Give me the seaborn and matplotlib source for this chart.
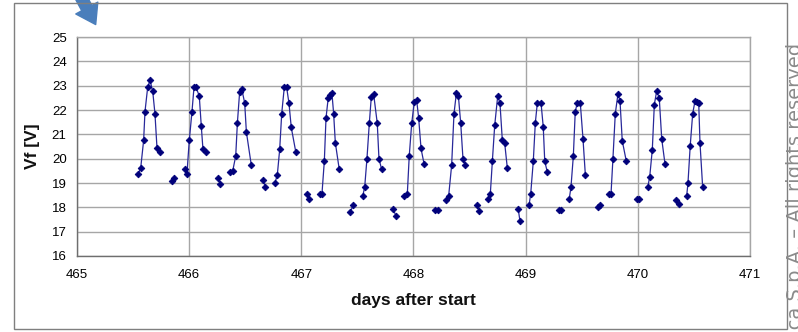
import numpy as np
import pandas as pd
import seaborn as sns
import matplotlib
matplotlib.use("Agg")
import matplotlib.pyplot as plt
from matplotlib.patches import Rectangle

nan = np.nan

# days after start (NaN marks a break in the line)
days = [
    465.547, 465.568, 465.594, 465.606, 465.630, 465.651, 465.675, 465.695, 465.713, 465.737, nan,
    465.844, 465.868, nan,
    465.963, 465.980, 466.001, 466.025, 466.043, 466.061, 466.090, 466.108, 466.123, 466.147, nan,
    466.260, 466.278, nan,
    466.367, 466.388, 466.415, 466.430, 466.450, 466.468, 466.495, 466.510, 466.554, nan,
    466.661, 466.679, nan,
    466.765, 466.786, 466.807, 466.825, 466.848, 466.869, 466.890, 466.910, 466.950, nan,
    467.048, 467.071, nan,
    467.164, 467.184, 467.205, 467.220, 467.240, 467.259, 467.273, 467.288, 467.303, 467.338, nan,
    467.437, 467.461, nan,
    467.547, 467.565, 467.585, 467.606, 467.624, 467.645, 467.677, 467.692, 467.716, nan,
    467.820, 467.844, nan,
    467.918, 467.945, 467.962, 467.984, 468.007, 468.028, 468.046, 468.067, 468.094, nan,
    468.192, 468.216, nan,
    468.292, 468.313, 468.340, 468.361, 468.382, 468.400, 468.421, 468.441, 468.462, nan,
    468.566, 468.584, nan,
    468.661, 468.685, 468.703, 468.724, 468.751, 468.771, 468.792, 468.813, 468.836, nan,
    468.934, 468.949, nan,
    469.030, 469.045, 469.068, 469.086, 469.104, 469.137, 469.157, 469.170, 469.193, nan,
    469.295, 469.315, nan,
    469.389, 469.404, 469.425, 469.442, 469.460, 469.487, 469.511, 469.532, nan,
    469.645, 469.665, nan,
    469.740, 469.761, 469.778, 469.799, 469.823, 469.841, 469.861, 469.897, nan,
    469.990, 470.010, nan,
    470.088, 470.106, 470.129, 470.147, 470.168, 470.191, 470.213, 470.242, nan,
    470.337, 470.364, nan,
    470.435, 470.447, 470.467, 470.489, 470.510, 470.530, 470.543, 470.554, 470.578,
]

# forward voltage Vf [V]
vf = [
    19.37, 19.62, 20.75, 21.93, 22.93, 23.22, 22.77, 21.85, 20.45, 20.27, nan,
    19.10, 19.19, nan,
    19.56, 19.37, 20.75, 21.93, 22.93, 22.93, 22.58, 21.34, 20.38, 20.27, nan,
    19.22, 18.95, nan,
    19.45, 19.49, 20.11, 21.48, 22.74, 22.88, 22.29, 21.10, 19.73, nan,
    19.11, 18.84, nan,
    19.00, 19.34, 20.38, 21.85, 22.93, 22.93, 22.27, 21.29, 20.29, nan,
    18.56, 18.36, nan,
    18.56, 18.56, 19.90, 21.67, 22.51, 22.60, 22.68, 21.85, 20.66, 19.56, nan,
    17.80, 18.08, nan,
    18.45, 18.84, 20.00, 21.45, 22.55, 22.64, 21.45, 20.00, 19.56, nan,
    17.93, 17.63, nan,
    18.47, 18.56, 20.11, 21.45, 22.32, 22.41, 21.67, 20.42, 19.79, nan,
    17.90, 17.90, nan,
    18.29, 18.45, 19.73, 21.85, 22.68, 22.59, 21.45, 20.00, 19.73, nan,
    18.08, 17.86, nan,
    18.36, 18.56, 19.90, 21.37, 22.59, 22.27, 20.75, 20.64, 19.63, nan,
    17.92, 17.44, nan,
    18.08, 18.56, 19.90, 21.47, 22.29, 22.29, 21.29, 19.90, 19.45, nan,
    17.90, 17.90, nan,
    18.36, 18.84, 20.11, 21.93, 22.29, 22.29, 20.82, 19.34, nan,
    18.00, 18.10, nan,
    18.56, 18.56, 20.00, 21.85, 22.66, 22.38, 20.74, 19.90, nan,
    18.36, 18.36, nan,
    18.82, 19.26, 20.37, 22.22, 22.78, 22.49, 20.81, 19.79, nan,
    18.29, 18.15, nan,
    18.45, 19.00, 20.53, 21.85, 22.38, 22.33, 22.27, 20.66, 18.82,
]

x_ticks = [465, 466, 467, 468, 469, 470, 471]
y_ticks = [16, 17, 18, 19, 20, 21, 22, 23, 24, 25]
x_label = "days after start"
y_label = "Vf [V]"
watermark = "Finmeccanica S.p.A. \u2013 All rights reserved"

df = pd.DataFrame({"day": days, "vf": vf})
df["seg"] = df["day"].isna().cumsum()
df = df.dropna()

sns.set_style("white")
plt.rcParams["font.family"] = ["Liberation Sans", "DejaVu Sans"]

fig = plt.figure(figsize=(7.98, 3.32), dpi=100)
ax = fig.add_axes([77 / 798, 1 - 256 / 332, 673 / 798, 219 / 332])

sns.lineplot(data=df, x="day", y="vf", units="seg", estimator=None,
             color="#28289a", linewidth=0.9, marker="D", markersize=3.4,
             markerfacecolor="#00007a", markeredgecolor="#00007a",
             markeredgewidth=0.6, ax=ax, legend=False, zorder=3)

ax.set_xlim(465, 471)
ax.set_ylim(16, 25)
ax.set_xticks(x_ticks)
ax.set_yticks(y_ticks)
ax.set_xticklabels([str(t) for t in x_ticks], fontsize=9.5, color="#000000")
ax.set_yticklabels([str(t) for t in y_ticks], fontsize=9.5, color="#000000")
ax.grid(True, color="#a6a6a6", linewidth=1.0)
ax.set_axisbelow(True)
for s in ["top", "right"]:
    ax.spines[s].set_visible(True)
    ax.spines[s].set_color("#a6a6a6")
    ax.spines[s].set_linewidth(1.0)
for s in ["left", "bottom"]:
    ax.spines[s].set_visible(True)
    ax.spines[s].set_color("#6e6e6e")
    ax.spines[s].set_linewidth(1.0)
ax.tick_params(axis="both", which="major", direction="out", length=4,
               width=1.0, color="#6e6e6e", pad=3.5)
ax.tick_params(axis="x", pad=5)

ax.set_xlabel(x_label, fontsize=12.5, fontweight="bold", color="#111111")
ax.set_ylabel(y_label, fontsize=12.5, fontweight="bold", color="#111111")
ax.xaxis.set_label_coords(0.5, (256 - 301) / 219)
ax.xaxis.label.set_verticalalignment("center")
ax.yaxis.set_label_coords((33 - 77) / 673, 0.5)
ax.yaxis.label.set_verticalalignment("center")

# outer frame
fig.patches.append(Rectangle((14 / 798, 3 / 332), 773 / 798, 326 / 332,
                             transform=fig.transFigure, fill=False,
                             edgecolor="#7f7f7f", linewidth=1.0))

# decorative arrow from the slide
ax.annotate("", xy=(97, 332 - 27), xytext=(76, 332 + 12),
            xycoords="figure pixels", textcoords="figure pixels",
            arrowprops=dict(arrowstyle="simple,head_length=0.9,head_width=1.2,tail_width=0.55",
                            color="#4a7ebb", mutation_scale=15),
            annotation_clip=False)

# copyright note running up the right edge (partly cut off, as in the source slide)
fig.text(786 / 798, 1 - 43 / 332, watermark, rotation=90, ha="left", va="top",
         fontsize=14, color="#8a8a8a", family=["DejaVu Sans"])

fig.savefig("out.png", dpi=100)
